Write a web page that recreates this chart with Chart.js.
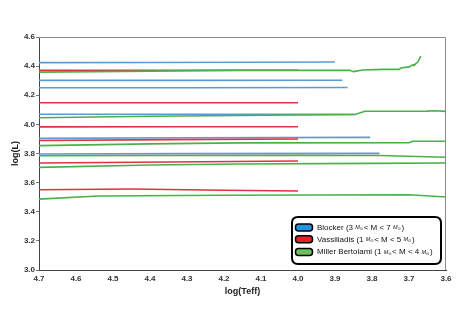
<!DOCTYPE html>
<html><head><meta charset="utf-8">
<script src="https://cdn.jsdelivr.net/npm/chart.js@4.4.0/dist/chart.umd.min.js"></script>
<style>html,body{margin:0;padding:0;background:#fff;overflow:hidden}canvas{display:block}</style>
</head><body>
<canvas id="c" width="463" height="327"></canvas>
<script>
// ---- data ----
const xTickValues = [4.7, 4.6, 4.5, 4.4, 4.3, 4.2, 4.1, 4.0, 3.9, 3.8, 3.7, 3.6];
const yTickValues = [3.0, 3.2, 3.4, 3.6, 3.8, 4.0, 4.2, 4.4, 4.6];
const seriesNames = ['Blocker (3 M⊙< M < 7 M⊙)', 'Vassiliadis (1 M⊙< M < 5 M⊙)', 'Miller Bertolami (1 M⊙< M < 4 M⊙)'];
const xTitle = 'log(Teff)';
const yTitle = 'log(L)';

// each track: [log(Teff), log(L)] pairs
const blockerTracks = [
  [[4.70, 4.424], [4.40, 4.425], [4.10, 4.427], [3.90, 4.428]],
  [[4.70, 4.302], [4.30, 4.302], [3.88, 4.303]],
  [[4.70, 4.252], [4.30, 4.252], [3.866, 4.253]],
  [[4.70, 4.070], [4.30, 4.070], [3.846, 4.069]],
  [[4.70, 3.904], [4.30, 3.908], [3.805, 3.911]],
  [[4.70, 3.797], [4.30, 3.799], [3.78, 3.801]]
];
const vassiliadisTracks = [
  [[4.70, 4.371], [4.35, 4.372], [4.00, 4.372]],
  [[4.70, 4.148], [4.35, 4.148], [4.00, 4.148]],
  [[4.70, 3.983], [4.35, 3.984], [4.00, 3.984]],
  [[4.70, 3.889], [4.35, 3.895], [4.00, 3.900]],
  [[4.70, 3.735], [4.35, 3.742], [4.00, 3.749]],
  [[4.70, 3.551], [4.45, 3.556], [4.20, 3.548], [4.00, 3.542]]
];
const millerTracks = [
  [[4.70, 4.359], [4.40, 4.366], [4.16, 4.371], [3.86, 4.371], [3.85, 4.362], [3.825, 4.373], [3.77, 4.378], [3.726, 4.378], [3.722, 4.387], [3.70, 4.395], [3.695, 4.401], [3.689, 4.410], [3.686, 4.405], [3.681, 4.419], [3.676, 4.428], [3.668, 4.469]],
  [[4.70, 4.045], [4.40, 4.056], [4.16, 4.061], [3.846, 4.068], [3.819, 4.090], [3.65, 4.091], [3.63, 4.094], [3.60, 4.089]],
  [[4.70, 3.854], [4.40, 3.866], [4.16, 3.873], [3.70, 3.874], [3.69, 3.884], [3.60, 3.884]],
  [[4.70, 3.785], [4.40, 3.786], [4.00, 3.787], [3.78, 3.786], [3.60, 3.774]],
  [[4.70, 3.705], [4.40, 3.721], [4.16, 3.728], [3.80, 3.732], [3.60, 3.735]],
  [[4.70, 3.487], [4.54, 3.508], [4.20, 3.513], [3.70, 3.517], [3.60, 3.501]]
];

// ---- styles ----
const lineColors = ['#5b9bd5', '#e0323f', '#4cb04a'];
const swatchColors = ['#1a96e0', '#e8202a', '#6cbf5c'];

function toPts(t) { return t.map(p => ({x: p[0], y: p[1]})); }
const datasets = [];
millerTracks.forEach(t => datasets.push({data: toPts(t), borderColor: lineColors[2]}));
vassiliadisTracks.forEach(t => datasets.push({data: toPts(t), borderColor: lineColors[1]}));
blockerTracks.forEach(t => datasets.push({data: toPts(t), borderColor: lineColors[0]}));
datasets.forEach(d => Object.assign(d, {showLine: true, borderWidth: 1.6, pointRadius: 0, fill: false, tension: 0}));

const framePlugin = {
  id: 'frame',
  afterDraw(chart) {
    const {ctx, chartArea: a} = chart;
    ctx.save();
    ctx.strokeStyle = '#8a8a8a';
    ctx.lineWidth = 1;
    ctx.beginPath();
    ctx.moveTo(a.left, a.top + 0.5);
    ctx.lineTo(a.right - 0.5, a.top + 0.5);
    ctx.lineTo(a.right - 0.5, a.bottom);
    ctx.stroke();
    ctx.restore();
  }
};

function roundRect(ctx, x, y, w, h, r) {
  ctx.beginPath();
  ctx.moveTo(x + r, y);
  ctx.lineTo(x + w - r, y);
  ctx.quadraticCurveTo(x + w, y, x + w, y + r);
  ctx.lineTo(x + w, y + h - r);
  ctx.quadraticCurveTo(x + w, y + h, x + w - r, y + h);
  ctx.lineTo(x + r, y + h);
  ctx.quadraticCurveTo(x, y + h, x, y + h - r);
  ctx.lineTo(x, y + r);
  ctx.quadraticCurveTo(x, y, x + r, y);
  ctx.closePath();
}

const legendPlugin = {
  id: 'boxLegend',
  afterDraw(chart) {
    const {ctx, chartArea: a} = chart;
    const bx = a.right - 154, by = a.bottom - 53, bw = 149, bh = 47;
    ctx.save();
    roundRect(ctx, bx, by, bw, bh, 6);
    ctx.fillStyle = '#fff';
    ctx.fill();
    ctx.lineWidth = 2;
    ctx.strokeStyle = '#000';
    ctx.stroke();
    const rows = [10.5, 22.3, 35];
    seriesNames.forEach((name, i) => {
      const cy = by + rows[i];
      roundRect(ctx, bx + 3.5, cy - 3.5, 17, 7, 3);
      ctx.fillStyle = swatchColors[i];
      ctx.fill();
      ctx.lineWidth = 1.5;
      ctx.strokeStyle = '#000';
      ctx.stroke();
      let x = bx + 25;
      ctx.fillStyle = '#111';
      ctx.textBaseline = 'middle';
      ctx.textAlign = 'left';
      const parts = name.split('M⊙');
      parts.forEach((p, j) => {
        ctx.font = '8px "Liberation Sans", Arial, sans-serif';
        ctx.fillText(p, x, cy);
        x += ctx.measureText(p).width;
        if (j < parts.length - 1) {
          ctx.font = 'italic 5.5px "Liberation Sans", Arial, sans-serif';
          ctx.fillText('M', x, cy);
          x += ctx.measureText('M').width;
          ctx.font = '4px "DejaVu Sans", sans-serif';
          ctx.fillText('⊙', x, cy + 1.5);
          x += ctx.measureText('⊙').width + 0.5;
        }
      });
    });
    ctx.restore();
  }
};

const tickFont = {family: '"Liberation Sans", Arial, sans-serif', size: 8, weight: 'bold'};
const titleFont = {family: '"Liberation Sans", Arial, sans-serif', size: 9, weight: 'bold'};

new Chart(document.getElementById('c'), {
  type: 'scatter',
  data: {datasets},
  options: {
    responsive: false,
    animation: false,
    devicePixelRatio: 1,
    layout: {padding: {left: 0, top: 37, right: 17, bottom: 27}},
    plugins: {legend: {display: false}, tooltip: {enabled: false}},
    scales: {
      x: {
        type: 'linear', min: 3.6, max: 4.7, reverse: true,
        afterBuildTicks: s => { s.ticks = xTickValues.map(v => ({value: v})); },
        afterFit: s => { s.height = 30; },
        ticks: {font: tickFont, color: '#333', padding: 4, maxRotation: 0, autoSkip: false, callback: v => Number(v).toFixed(1)},
        grid: {display: false, drawTicks: false},
        border: {display: true, color: '#444', width: 1, dash: [1, 2]},
        title: {display: true, text: xTitle, font: titleFont, color: '#222', padding: {top: 0, bottom: 3}}
      },
      y: {
        type: 'linear', min: 3.0, max: 4.6,
        afterBuildTicks: s => { s.ticks = yTickValues.map(v => ({value: v})); },
        afterFit: s => { s.width = 39; },
        ticks: {font: tickFont, color: '#333', padding: 1, autoSkip: false, callback: v => Number(v).toFixed(1)},
        grid: {display: true, drawOnChartArea: false, drawTicks: true, tickLength: 3, color: '#777'},
        border: {display: true, color: '#444', width: 1, dash: [1, 2]},
        title: {display: true, text: yTitle, font: titleFont, color: '#222', padding: {top: 10, bottom: 0}}
      }
    }
  },
  plugins: [framePlugin, legendPlugin]
});
</script>
</body></html>
